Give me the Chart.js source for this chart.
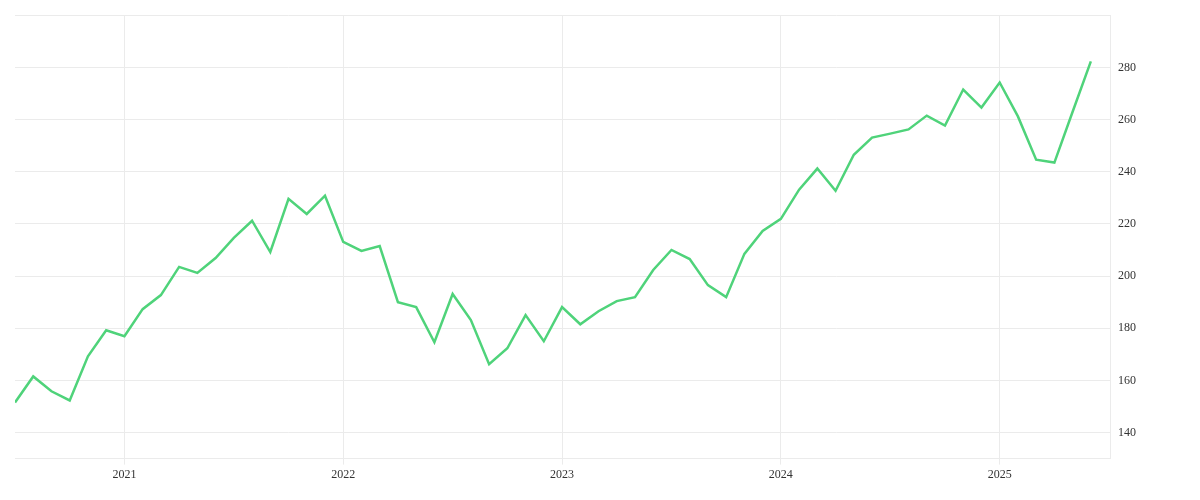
<!DOCTYPE html>
<html><head><meta charset="utf-8">
<script src="https://cdn.jsdelivr.net/npm/chart.js@4"></script>
<style>html,body{margin:0;padding:0;background:#fff}#w{width:1200px;height:500px}</style>
</head><body><div id="w"><canvas id="c"></canvas></div>
<script>
const values = [151.5,161.5,155.8,152.3,169.2,179.2,
176.9,187.3,192.7,203.5,201.2,206.9,214.6,221.2,209.2,229.6,223.8,230.8,
213.1,209.6,211.5,190,188.1,174.6,193.1,183.1,166.2,172.3,185,175,
188.1,181.5,186.5,190.4,191.9,202.3,210,206.5,196.5,191.9,208.5,217.3,
221.9,233.1,241.2,232.7,246.5,253.1,254.6,256.2,261.5,257.7,271.5,264.6,
274.2,261.2,244.6,243.5,263,282.3];
const yearLabels = {6:'2021',18:'2022',30:'2023',42:'2024',54:'2025'};
const yTicks = [140,160,180,200,220,240,260,280,300];
const pts = values.map((v,i)=>({x:i,y:v}));
new Chart(document.getElementById('c'),{
  type:'line',
  data:{datasets:[{data:pts,borderColor:'#4fd37a',borderWidth:2.5,pointRadius:0,tension:0,fill:false}]},
  options:{responsive:true,maintainAspectRatio:false,animation:false,
    layout:{padding:{left:15,top:15,right:56,bottom:15}},
    plugins:{legend:{display:false},tooltip:{enabled:false}},
    scales:{
      x:{type:'linear',min:0,max:60.05,
        afterBuildTicks:a=>{a.ticks=Object.keys(yearLabels).map(k=>({value:+k}));},
        ticks:{callback:v=>yearLabels[v]||'',font:{family:'Liberation Serif',size:12},color:'#333',maxRotation:0},
        grid:{color:'#ebebeb',drawTicks:true,tickLength:6},border:{color:'#ebebeb'}},
      y:{position:'right',min:130,max:300,
        afterBuildTicks:a=>{a.ticks=yTicks.map(v=>({value:v}));},
        ticks:{callback:v=>v===300?'':v,font:{family:'Liberation Serif',size:12},color:'#333',padding:8},
        grid:{color:'#ebebeb',drawTicks:false},border:{color:'#ebebeb'}}
    }}
});
</script></body></html>
